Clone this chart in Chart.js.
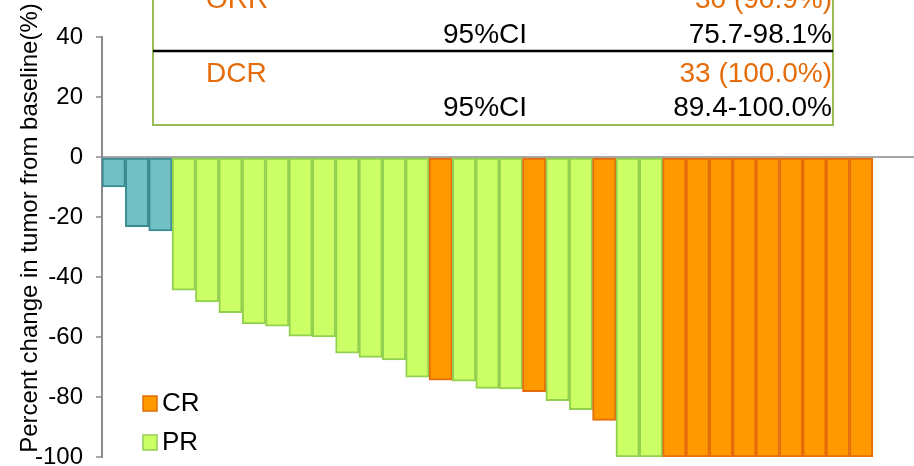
<!DOCTYPE html>
<html>
<head>
<meta charset="utf-8">
<script src="https://cdn.jsdelivr.net/npm/chart.js@4.4.1/dist/chart.umd.min.js"></script>
<style>
  html, body { margin: 0; padding: 0; background: #fff; }
  canvas { display: block; }
</style>
</head>
<body>
<canvas id="waterfall" width="914" height="466"></canvas>
<script>
// Best percent change in tumor size per patient, sorted from smallest to deepest response
const changes = [
  -10, -23.2, -24.6, -44.4, -48.3, -51.9, -55.6, -56.4, -59.7, -60.0,
  -65.4, -66.8, -67.6, -73.4, -74.4, -74.7, -77.1, -77.3, -78.2, -81.2,
  -84.2, -87.8, -100, -100, -100, -100, -100, -100, -100, -100,
  -100, -100, -100
];
// Best overall response for each patient
const responses = [
  'SD', 'SD', 'SD', 'PR', 'PR', 'PR', 'PR', 'PR', 'PR', 'PR',
  'PR', 'PR', 'PR', 'PR', 'CR', 'PR', 'PR', 'PR', 'CR', 'PR',
  'PR', 'CR', 'PR', 'PR', 'CR', 'CR', 'CR', 'CR', 'CR', 'CR',
  'CR', 'CR', 'CR'
];
const yTicks = [40, 20, 0, -20, -40, -60, -80, -100];
const legendItems = ['CR', 'PR'];
// Summary table rows: label, count, confidence interval
const summaryRows = [
  { label: 'ORR', value: '30 (90.9%)', ci: '75.7-98.1%' },
  { label: 'DCR', value: '33 (100.0%)', ci: '89.4-100.0%' }
];

const fills   = { SD: '#72BFC4', PR: '#CCFF66', CR: '#FF9900' };
const borders = { SD: '#3A8C94', PR: '#92D050', CR: '#E46C0A' };
const FONT = '"Liberation Sans", Arial, sans-serif';

const points = changes.map((v, i) => ({ x: i + 0.5, y: v }));

const overlay = {
  id: 'overlay',
  afterDraw(chart) {
    const ctx = chart.ctx;
    ctx.save();

    // axis title
    ctx.save();
    ctx.translate(37, 228);
    ctx.rotate(-Math.PI / 2);
    ctx.fillStyle = '#000';
    ctx.font = '24px ' + FONT;
    ctx.textAlign = 'center';
    ctx.textBaseline = 'alphabetic';
    ctx.fillText('Percent change in tumor from baseline(%)', 0, 0);
    ctx.restore();

    // summary box
    ctx.fillStyle = '#fff';
    ctx.fillRect(153, -10, 680, 135);
    ctx.strokeStyle = '#9BBB59';
    ctx.lineWidth = 2;
    ctx.strokeRect(153, -10, 680, 135);
    ctx.strokeStyle = '#000';
    ctx.lineWidth = 2.5;
    ctx.beginPath();
    ctx.moveTo(153, 51);
    ctx.lineTo(833, 51);
    ctx.stroke();

    ctx.font = '28px ' + FONT;
    ctx.textBaseline = 'alphabetic';
    const rowBase = [[8, 43], [82, 116]];
    summaryRows.forEach((r, k) => {
      const [b1, b2] = rowBase[k];
      ctx.fillStyle = '#E46C0A';
      ctx.textAlign = 'left';
      ctx.fillText(r.label, 206, b1);
      ctx.textAlign = 'right';
      ctx.fillText(r.value, 832, b1);
      ctx.fillStyle = '#000';
      ctx.textAlign = 'left';
      ctx.fillText('95%CI', 443, b2);
      ctx.textAlign = 'right';
      ctx.fillText(r.ci, 832, b2);
    });

    // legend
    ctx.font = '26px ' + FONT;
    ctx.textAlign = 'left';
    ctx.textBaseline = 'middle';
    legendItems.forEach((key, k) => {
      const y = 396 + k * 39;
      ctx.fillStyle = fills[key];
      ctx.fillRect(143, y, 14, 15);
      ctx.strokeStyle = borders[key];
      ctx.lineWidth = 1.5;
      ctx.strokeRect(143, y, 14, 15);
      ctx.fillStyle = '#000';
      ctx.fillText(key, 162, y + 8);
    });

    ctx.restore();
  }
};

new Chart(document.getElementById('waterfall'), {
  type: 'bar',
  data: {
    datasets: [{
      data: points,
      backgroundColor: responses.map(r => fills[r]),
      borderColor: responses.map(r => borders[r]),
      borderWidth: 2,
      borderSkipped: false,
      barPercentage: 1,
      categoryPercentage: 1
    }]
  },
  options: {
    responsive: false,
    devicePixelRatio: 1,
    animation: false,
    layout: { padding: { top: 37, bottom: 9, left: 0, right: 0 } },
    plugins: { legend: { display: false }, tooltip: { enabled: false } },
    scales: {
      x: {
        type: 'linear',
        offset: false,
        min: 0,
        max: 34.76,
        display: false,
        grid: { offset: false }
      },
      y: {
        min: -100,
        max: 40,
        afterBuildTicks(scale) {
          scale.ticks = yTicks.map(v => ({ value: v }));
        },
        afterFit(scale) {
          scale.width = 102;
          scale.paddingTop = 0;
          scale.paddingBottom = 0;
        },
        border: { display: true, color: '#8C8C8C', width: 2 },
        grid: {
          drawOnChartArea: true,
          color: c => (c.tick && c.tick.value === 0 ? '#A6A6A6' : 'rgba(0,0,0,0)'),
          lineWidth: 2,
          tickColor: '#8C8C8C',
          tickLength: 6,
          tickWidth: 1.5
        },
        ticks: {
          color: '#000',
          font: { family: FONT, size: 24 },
          padding: 13
        }
      }
    }
  },
  plugins: [overlay]
});
</script>
</body>
</html>
